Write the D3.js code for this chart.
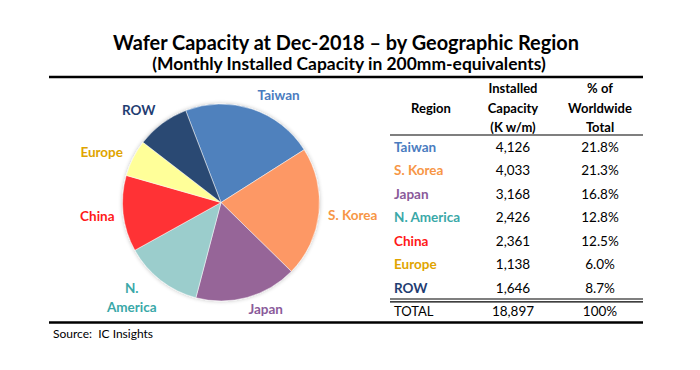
<!DOCTYPE html>
<html><head><meta charset="utf-8">
<script src="https://cdn.jsdelivr.net/npm/d3@7"></script>
<style>body{margin:0;background:#fff}svg{display:block}text{white-space:pre}</style>
</head><body>
<svg id="c" width="700" height="370"></svg>
<script>
const regions = ["Taiwan","S. Korea","Japan","N. America","China","Europe","ROW"];
const capacity = [4126,4033,3168,2426,2361,1138,1646];
const capacityLabels = ["4,126","4,033","3,168","2,426","2,361","1,138","1,646"];
const shareLabels = ["21.8%","21.3%","16.8%","12.8%","12.5%","6.0%","8.7%"];
const totalLabel = ["TOTAL","18,897","100%"];
const sliceColors = ["#4f81bd","#fd9865","#966598","#9bcdcc","#ff3334","#ffff99","#2b4a73"];
const textColors = ["#4a7cc0","#f79646","#8a5a9a","#3aa8a8","#ff1a1a","#e0a400","#1f3d72"];
const headers = [["Region"],["Installed","Capacity","(K w/m)"],["% of","Worldwide","Total"]];

const svg = d3.select("#c");
const FONT = "Lato, 'Open Sans', sans-serif";

function fitText(sel, w){
  const n = sel.node(); const fs = parseFloat(sel.attr("font-size"));
  const cur = n.getComputedTextLength();
  sel.attr("font-size", (fs*w/cur).toFixed(2));
}

// titles
const t1 = svg.append("text").attr("x",346).attr("y",49.5).attr("text-anchor","middle")
  .attr("font-family",FONT).attr("font-weight","bold").attr("font-size",20).attr("fill","#000")
  .text("Wafer Capacity at Dec-2018 – by Geographic Region");
fitText(t1, 466);
const t2 = svg.append("text").attr("x",349).attr("y",69.5).attr("text-anchor","middle")
  .attr("font-family",FONT).attr("font-weight","bold").attr("font-size",15).attr("fill","#000")
  .text("(Monthly Installed Capacity in 200mm-equivalents)");
fitText(t2, 394);

// rules
svg.append("line").attr("x1",49).attr("x2",643).attr("y1",77).attr("y2",77).attr("stroke","#000").attr("stroke-width",2.5);
svg.append("line").attr("x1",49).attr("x2",643).attr("y1",322.5).attr("y2",322.5).attr("stroke","#000").attr("stroke-width",2.5);
svg.append("line").attr("x1",390).attr("x2",643).attr("y1",135).attr("y2",135).attr("stroke","#000").attr("stroke-width",1.2);
svg.append("line").attr("x1",390).attr("x2",643).attr("y1",299).attr("y2",299).attr("stroke","#000").attr("stroke-width",1.2);
svg.append("line").attr("x1",390).attr("x2",643).attr("y1",301.8).attr("y2",301.8).attr("stroke","#000").attr("stroke-width",1.2);

// source
svg.append("text").attr("x",53).attr("y",338).attr("font-family",FONT).attr("font-size",12).attr("fill","#000")
  .attr("xml:space","preserve").text("Source:  IC Insights");

// pie
const defs = svg.append("defs");
const f = defs.append("filter").attr("id","sh").attr("x","-20%").attr("y","-20%").attr("width","140%").attr("height","140%");
f.append("feGaussianBlur").attr("in","SourceAlpha").attr("stdDeviation",2).attr("result","b");
f.append("feComponentTransfer").attr("in","b").attr("result","o2").append("feFuncA").attr("type","linear").attr("slope",0.25);
const fm = f.append("feMerge"); fm.append("feMergeNode").attr("in","o2"); fm.append("feMergeNode").attr("in","SourceGraphic");

const cx = 221, cy = 202.5, R = 98.5;
const a0 = -21*Math.PI/180;
const pie = d3.pie().sort(null).startAngle(a0).endAngle(a0+2*Math.PI);
const arcs = pie(capacity);
const arc = d3.arc().innerRadius(0).outerRadius(R);
const g = svg.append("g").attr("transform",`translate(${cx},${cy})`).attr("filter","url(#sh)");
g.selectAll("path").data(arcs).join("path").attr("d",arc)
  .attr("fill",(d,i)=>sliceColors[i]).attr("stroke","#ffffff").attr("stroke-opacity",0.6).attr("stroke-width",0.8);

// pie labels: placed from slice mid-angle with per-label angular offset (deg) and radius factor
const labelAngOff = [9.9,-0.6,-7.3,5.3,0.3,-3.7,-5.0];
const labelR = [1.239,1.343,1.176,1.324,1.263,1.317,1.255];
const lg = svg.append("g").attr("transform",`translate(${cx},${cy})`);
arcs.forEach((d,i)=>{
  const m = (d.startAngle+d.endAngle)/2 + labelAngOff[i]*Math.PI/180;
  const r = R*labelR[i];
  const x = Math.sin(m)*r, y = -Math.cos(m)*r;
  const lines = regions[i]==="N. America" ? ["N.","America"] : [regions[i]];
  const t = lg.append("text").attr("text-anchor","middle").attr("font-family",FONT).attr("font-weight","bold")
    .attr("font-size",13.5).attr("fill",textColors[i]);
  lines.forEach((s,k)=>{
    t.append("tspan").attr("x",x).attr("y",y+5+(k-(lines.length-1)/2)*18.5).text(s);
  });
});

// table
const colX = [394, 513, 600];
const hg = svg.append("g").attr("font-family",FONT).attr("font-weight","bold").attr("font-size",13).attr("fill","#000");
hg.append("text").attr("x",431).attr("y",113).attr("text-anchor","middle").text(headers[0][0]);
[1,2].forEach(c=>{
  headers[c].forEach((s,k)=>{
    hg.append("text").attr("x",colX[c]).attr("y",93+k*19.5).attr("text-anchor","middle").text(s);
  });
});
const rowY = d3.scaleLinear().domain([0,7]).range([151.5,316]);
regions.forEach((r,i)=>{
  const y = rowY(i);
  svg.append("text").attr("x",colX[0]).attr("y",y).attr("font-family",FONT).attr("font-weight","bold")
    .attr("font-size",13.5).attr("fill",textColors[i]).text(r);
  svg.append("text").attr("x",colX[1]).attr("y",y).attr("text-anchor","middle").attr("font-family",FONT)
    .attr("font-size",13.5).attr("fill","#000").text(capacityLabels[i]);
  svg.append("text").attr("x",colX[2]).attr("y",y).attr("text-anchor","middle").attr("font-family",FONT)
    .attr("font-size",13.5).attr("fill","#000").text(shareLabels[i]);
});
const ty = rowY(7);
svg.append("text").attr("x",colX[0]).attr("y",ty).attr("font-family",FONT).attr("font-size",13).attr("fill","#000").text(totalLabel[0]);
svg.append("text").attr("x",colX[1]).attr("y",ty).attr("text-anchor","middle").attr("font-family",FONT).attr("font-size",13.5).attr("fill","#000").text(totalLabel[1]);
svg.append("text").attr("x",colX[2]).attr("y",ty).attr("text-anchor","middle").attr("font-family",FONT).attr("font-size",13.5).attr("fill","#000").text(totalLabel[2]);
</script>
</body></html>
